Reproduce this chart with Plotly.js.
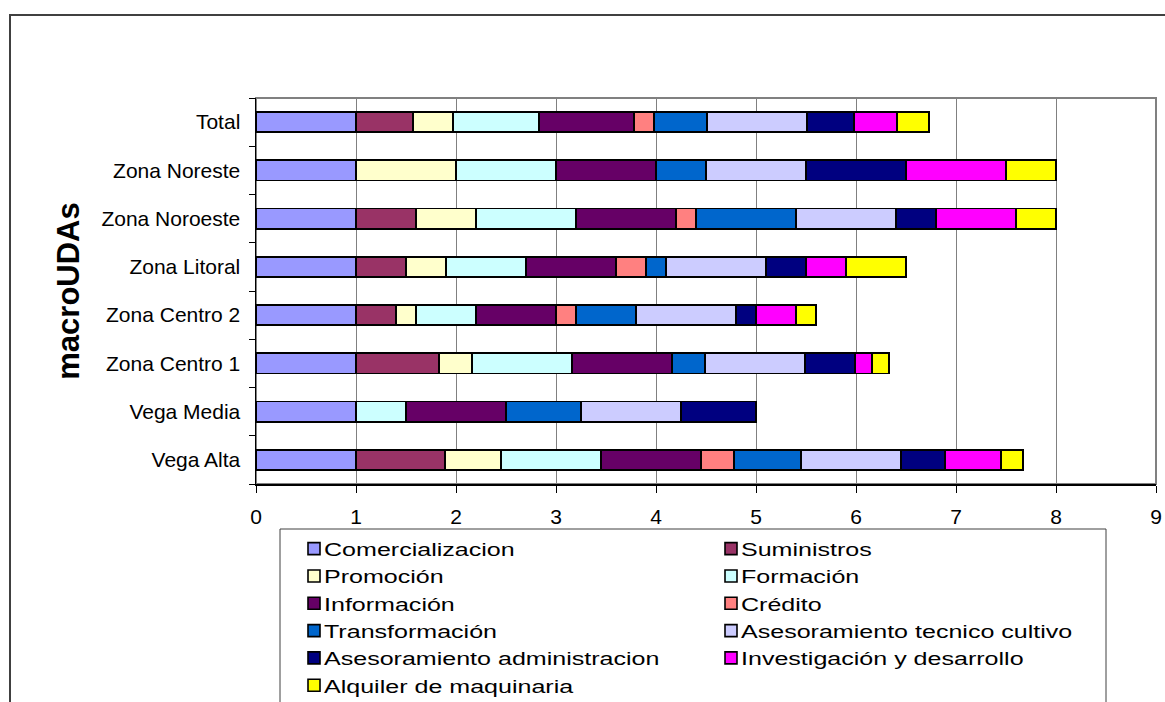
<!DOCTYPE html>
<html>
<head>
<meta charset="utf-8">
<script src="https://cdn.plot.ly/plotly-3.0.1.min.js"></script>
<style>html,body{margin:0;padding:0;background:#fff;overflow:hidden;}#chart{width:1165px;height:702px;}</style>
</head>
<body>
<div id="chart"></div>
<script>
// Categories, bottom to top
const categories = ["Vega Alta", "Vega Media", "Zona Centro 1", "Zona Centro 2", "Zona Litoral", "Zona Noroeste", "Zona Noreste", "Total"];

const seriesNames = ["Comercializacion", "Suministros", "Promoción", "Formación", "Información", "Crédito", "Transformación", "Asesoramiento tecnico cultivo", "Asesoramiento administracion", "Investigación y desarrollo", "Alquiler de maquinaria"];

const comercializacion = [1, 1, 1, 1, 1, 1, 1, 1];
const suministros      = [0.89, 0, 0.83, 0.4, 0.5, 0.6, 0, 0.57];
const promocion        = [0.56, 0, 0.33, 0.2, 0.4, 0.6, 1, 0.4];
const formacion        = [1, 0.5, 1, 0.6, 0.8, 1, 1, 0.86];
const informacion      = [1, 1, 1, 0.8, 0.9, 1, 1, 0.95];
const credito          = [0.33, 0, 0, 0.2, 0.3, 0.2, 0, 0.2];
const transformacion   = [0.67, 0.75, 0.33, 0.6, 0.2, 1, 0.5, 0.53];
const asesTecnico      = [1, 1, 1, 1, 1, 1, 1, 1];
const asesAdmin        = [0.44, 0.75, 0.5, 0.2, 0.4, 0.4, 1, 0.47];
const investigacion    = [0.56, 0, 0.17, 0.4, 0.4, 0.8, 1, 0.43];
const alquiler         = [0.22, 0, 0.17, 0.2, 0.6, 0.4, 0.5, 0.32];

const xTickVals = [0, 1, 2, 3, 4, 5, 6, 7, 8, 9];

const seriesValues = [comercializacion, suministros, promocion, formacion, informacion, credito, transformacion, asesTecnico, asesAdmin, investigacion, alquiler];
const seriesColors = ["#9999FF", "#993366", "#FFFFCC", "#CCFFFF", "#660066", "#FF8080", "#0066CC", "#CCCCFF", "#000080", "#FF00FF", "#FFFF00"];

const FONT = "Liberation Sans, Arial, sans-serif";

const traces = seriesNames.map((name, i) => ({
  type: "bar",
  orientation: "h",
  name: name,
  y: categories,
  x: seriesValues[i],
  marker: { color: seriesColors[i], line: { color: "#000000", width: 1.6 } },
  hoverinfo: "x+name"
}));

// plot area: x 256..1156, y 98..484
const W = 1165, H = 702, L = 256, R = 9, T = 98, B = 218;
const pw = W - L - R, ph = H - T - B;
const px = v => (v - L) / pw;
const py = v => (H - B - v) / ph;

const layout = {
  width: W, height: H,
  margin: { l: L, r: R, t: T, b: B, pad: 0, autoexpand: false },
  paper_bgcolor: "#ffffff",
  plot_bgcolor: "#ffffff",
  barmode: "stack",
  bargap: 0.58,
  font: { family: FONT, color: "#000000", size: 21 },
  xaxis: {
    range: [0, 9],
    tickvals: xTickVals,
    showgrid: true,
    gridcolor: "#808080",
    gridwidth: 1,
    zeroline: false,
    showline: true,
    linecolor: "#000000",
    linewidth: 1.5,
    ticks: "outside",
    ticklen: 7,
    tickcolor: "#000000",
    ticklabelstandoff: 6,
    tickfont: { family: FONT, size: 21, color: "#000000" },
    fixedrange: true
  },
  yaxis: {
    type: "category",
    categoryorder: "array",
    categoryarray: categories,
    tickson: "boundaries",
    ticks: "outside",
    ticklen: 6,
    tickcolor: "#000000",
    showgrid: false,
    showline: true,
    linecolor: "#000000",
    linewidth: 1.5,
    ticklabelstandoff: 10,
    tickfont: { family: FONT, size: 21, color: "#000000" },
    title: { text: "macroUDAs", font: { family: FONT, size: 31, color: "#000000", weight: "bold" }, standoff: 12 },
    fixedrange: true
  },
  legend: {
    orientation: "h",
    x: px(294), xanchor: "left",
    y: py(530), yanchor: "top",
    entrywidth: 372,
    entrywidthmode: "pixels",
    traceorder: "normal",
    font: { family: FONT, size: 18.7, color: "#000000" },
    bgcolor: "rgba(0,0,0,0)",
    borderwidth: 0
  },
  showlegend: true,
  shapes: [
    // plot area border (grey)
    { type: "rect", xref: "paper", yref: "paper", x0: 0, x1: 1, y0: 0, y1: 1, line: { color: "#808080", width: 2 }, fillcolor: "rgba(0,0,0,0)", layer: "below" },
    // outer chart border
    { type: "rect", xref: "paper", yref: "paper", x0: px(10), x1: px(1175), y0: py(712), y1: py(15), line: { color: "#404040", width: 2 }, fillcolor: "rgba(0,0,0,0)", layer: "below" },
    // legend box
    { type: "rect", xref: "paper", yref: "paper", x0: px(280), x1: px(1106), y0: py(712), y1: py(529), line: { color: "#404040", width: 1 }, fillcolor: "rgba(0,0,0,0)", layer: "below" }
  ]
};

Plotly.newPlot("chart", traces, layout, { displayModeBar: false, staticPlot: true }).then(gd => {
  // legend text in the original is set close to its swatch and drawn wider
  gd.querySelectorAll(".legend .legendtext").forEach(t => {
    const w = t.getComputedTextLength();
    t.setAttribute("x", 30);
    t.setAttribute("textLength", (w * 1.34).toFixed(1));
    t.setAttribute("lengthAdjust", "spacingAndGlyphs");
  });
});
</script>
</body>
</html>
